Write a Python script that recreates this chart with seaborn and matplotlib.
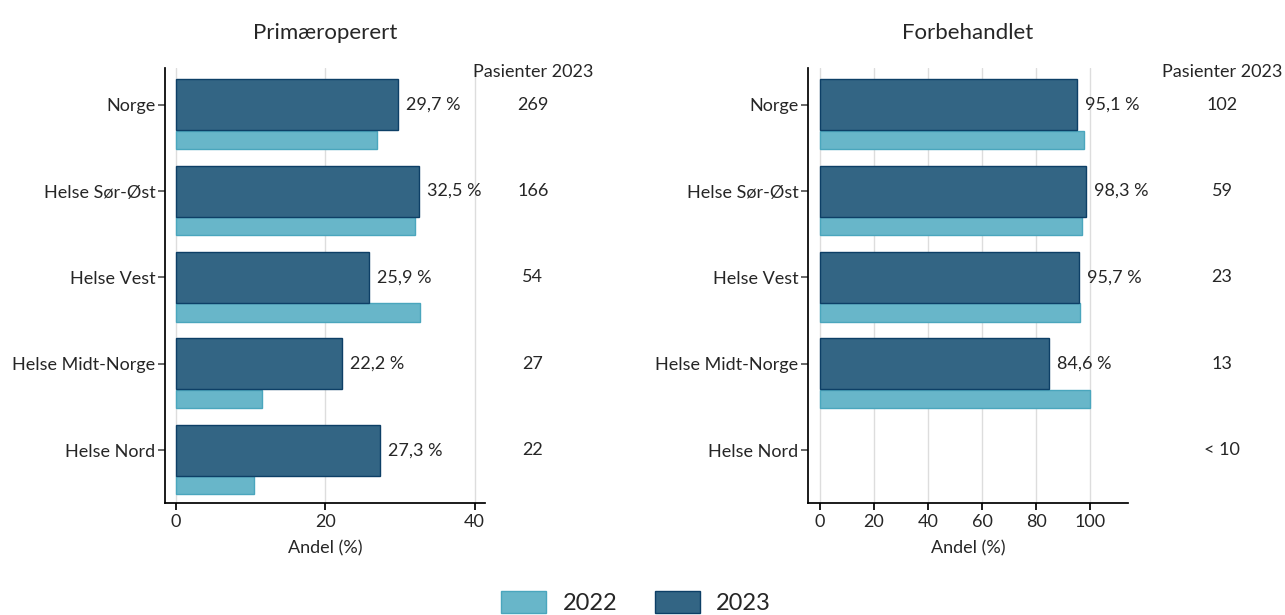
import numpy as np
import pandas as pd
import matplotlib.pyplot as plt
import seaborn as sns
from matplotlib.patches import Patch

sns.set_theme(style="white")
plt.rcParams['font.family'] = ['Lato', 'DejaVu Sans']

# ---- data ----
regions = ['Norge', 'Helse Sør-Øst', 'Helse Vest', 'Helse Midt-Norge', 'Helse Nord']

prim_2023 = [29.7, 32.5, 25.9, 22.2, 27.3]
prim_2022 = [26.9, 32.0, 32.7, 11.5, 10.4]
prim_n = ['269', '166', '54', '27', '22']

forb_2023 = [95.1, 98.3, 95.7, 84.6, np.nan]
forb_2022 = [97.6, 97.0, 96.3, 100.0, np.nan]
forb_n = ['102', '59', '23', '13', '< 10']

c22, e22 = '#68b6c9', '#4aa6bd'
c23, e23 = '#336584', '#0d3f66'

fig = plt.figure(figsize=(12.85, 6.15), dpi=100)
ax1 = fig.add_axes([0.1284, 0.182, 0.249, 0.707])
ax2 = fig.add_axes([0.6288, 0.182, 0.249, 0.707])


def panel(ax, title, v23, v22, counts, xlim, xticks, ncol_x):
    df = pd.DataFrame({'region': regions, 'v23': v23, 'v22': v22})
    pos = np.arange(len(regions))
    # 2022 bars sit just below the 2023 bars
    ax.barh(pos + 0.405, df['v22'], height=0.21, color=c22, edgecolor=e22,
            linewidth=1, zorder=2)
    sns.barplot(data=df, x='v23', y='region', orient='h', color=c23,
                width=0.59, saturation=1, edgecolor=e23, linewidth=1,
                ax=ax, zorder=3)
    for i, v in enumerate(v23):
        if not np.isnan(v):
            ax.text(v + (xlim[1] - xlim[0]) * 0.025, i,
                    f"{v:.1f} %".replace('.', ','), va='center',
                    ha='left', fontsize=13)
    for i, n in enumerate(counts):
        ax.text(ncol_x, i, n, transform=ax.get_yaxis_transform(),
                ha='center', va='center', fontsize=13, clip_on=False)
    ax.text(ncol_x, 0.992, 'Pasienter 2023', transform=ax.transAxes,
            ha='center', va='center', fontsize=13, clip_on=False)
    ax.set_xlim(*xlim)
    ax.set_ylim(4.61, -0.42)
    ax.set_xticks(xticks)
    ax.set_xlabel('Andel (%)', fontsize=13, labelpad=7)
    ax.set_ylabel('')
    ax.set_title(title, fontsize=16, pad=21)
    ax.grid(axis='x', color='#dddddd', linewidth=1, zorder=0)
    ax.set_axisbelow(True)
    sns.despine(ax=ax)
    ax.spines['left'].set_color('black')
    ax.spines['bottom'].set_color('black')
    ax.tick_params(axis='y', left=True, length=5, color='#555555',
                   labelsize=13, pad=2)
    ax.tick_params(axis='x', bottom=True, length=5, color='black',
                   labelsize=13, pad=3)


panel(ax1, 'Primæroperert', prim_2023, prim_2022, prim_n,
      (-1.47, 41.4), [0, 20, 40], 1.15)
panel(ax2, 'Forbehandlet', forb_2023, forb_2022, forb_n,
      (-4.4, 114), [0, 20, 40, 60, 80, 100], 1.294)

handles = [Patch(facecolor=c22, edgecolor=e22, label='2022'),
           Patch(facecolor=c23, edgecolor=e23, label='2023')]
fig.legend(handles=handles, loc='center', bbox_to_anchor=(0.495, 0.02),
           ncol=2, frameon=False, fontsize=17, handlelength=1.9,
           handleheight=1.0, columnspacing=1.6, handletextpad=0.7)

fig.savefig('out.png', dpi=100)
